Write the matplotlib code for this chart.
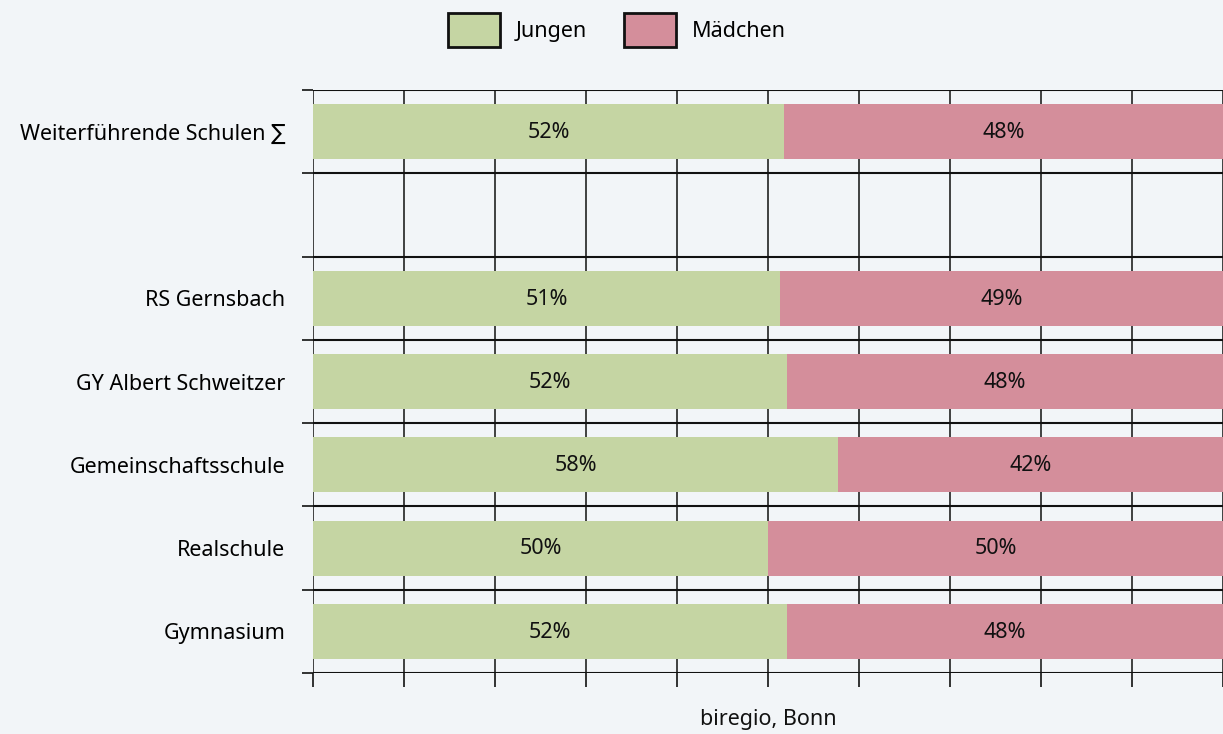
import matplotlib
matplotlib.use("Agg")
import matplotlib.pyplot as plt
from matplotlib.patches import Patch
import numpy as np

categories = ["Weiterführende Schulen ∑", "", "RS Gernsbach", "GY Albert Schweitzer",
              "Gemeinschaftsschule", "Realschule", "Gymnasium"]
jungen = [51.8, np.nan, 51.3, 52.1, 57.7, 50.0, 52.1]
maedchen = [48.2, np.nan, 48.7, 47.9, 42.3, 50.0, 47.9]
series_names = ["Jungen", "Mädchen"]
source = "biregio, Bonn"

bg = "#f2f5f8"
green = "#c5d5a3"
pink = "#d48e9b"

plt.rcParams['font.family'] = ['Noto Sans', 'DejaVu Sans']
fs = 15.5
fig = plt.figure(figsize=(12.23, 7.34), dpi=100, facecolor=bg)
ax = fig.add_axes([313/1223, (734-673)/734, 1 - 313/1223, (673-90)/734])
ax.set_facecolor(bg)

n = len(categories)
y = np.arange(n)
h = 0.66
jv = np.nan_to_num(jungen)
mv = np.nan_to_num(maedchen)
ax.barh(y, jv, height=h, color=green, zorder=2)
ax.barh(y, mv, left=jv, height=h, color=pink, zorder=2)

for i in range(n):
    if np.isnan(jungen[i]):
        continue
    ax.text(jungen[i] / 2, i + 0.01, f"{round(jungen[i])}%", ha="center", va="center",
            fontsize=fs, color="#111111", zorder=3)
    ax.text(jungen[i] + maedchen[i] / 2, i + 0.01, f"{round(maedchen[i])}%", ha="center", va="center",
            fontsize=fs, color="#111111", zorder=3)

ax.set_xlim(0, 100)
ax.set_ylim(n - 0.5, -0.5)
ax.set_yticks(y)
ax.set_yticklabels(categories, fontsize=fs)
ax.tick_params(axis="y", length=0, pad=20)
ax.set_yticks(np.arange(-0.5, n, 1), minor=True)
ax.tick_params(axis="y", which="minor", length=8, width=1.2, color="#111111")
ax.set_xticks(np.arange(0, 101, 10))
ax.set_xticklabels([])
ax.tick_params(axis="x", length=10, width=1.2, color="#111111")

for xv in np.arange(0, 101, 10):
    ax.axvline(xv, color="#222222", lw=1.2, zorder=1)
for yv in np.arange(-0.5, n, 1):
    ax.axhline(yv, color="#111111", lw=1.5, zorder=3)

for s in ax.spines.values():
    s.set_visible(False)

fig.text(768/1223, 1 - 720/734, source, ha="center", va="center", fontsize=fs, color="#111111")

handles = [Patch(facecolor=green, edgecolor="#111111", lw=2),
           Patch(facecolor=pink, edgecolor="#111111", lw=2)]
fig.legend(handles, series_names, loc="center", bbox_to_anchor=(617/1223, 1 - 30/734),
           ncol=2, frameon=False, fontsize=fs, handlelength=2.4, handleheight=2.1,
           columnspacing=1.7, handletextpad=0.75)

fig.savefig("out.png", dpi=100, facecolor=bg)
